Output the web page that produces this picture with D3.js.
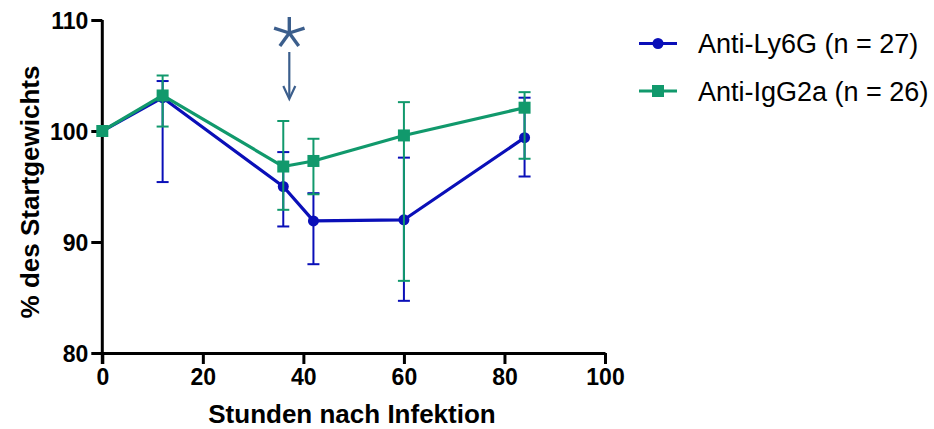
<!DOCTYPE html>
<html>
<head>
<meta charset="utf-8">
<script src="https://cdn.jsdelivr.net/npm/d3@7"></script>
<style>
  html, body { margin: 0; padding: 0; background: #ffffff; }
  svg { display: block; }
  text { font-family: "Liberation Sans", Arial, sans-serif; }
</style>
</head>
<body>
<svg id="chart" width="934" height="429"></svg>
<script>
// Body weight over time after infection (% of starting weight, mean with error bars)
const hours = [0, 12, 36, 42, 60, 84];

const ly6gMean = [100, 103.0, 95.0, 91.9, 92.0, 99.4];
const ly6gLow  = [100, 95.4, 91.4, 88.0, 84.7, 95.9];
const ly6gHigh = [100, 104.5, 98.1, 94.4, 97.6, 103.0];

const iggMean = [100, 103.2, 96.8, 97.3, 99.6, 102.1];
const iggLow  = [100, 100.4, 92.9, 94.3, 86.5, 97.5];
const iggHigh = [100, 105.0, 100.9, 99.3, 102.6, 103.5];

const seriesNames = ["Anti-Ly6G (n = 27)", "Anti-IgG2a (n = 26)"];
const xTicks = [0, 20, 40, 60, 80, 100];
const yTicks = [80, 90, 100, 110];
const markHour = 37.2;   // time of treatment, marked with * and arrow

const blue = "#0a0fb8";
const green = "#11996c";
const noteColor = "#3b5e8c";

const svg = d3.select("#chart");

const x = d3.scaleLinear().domain([0, 100]).range([102.3, 605]);
const y = d3.scaleLinear().domain([80, 110]).range([353, 20]);

// Axes
const xAxis = svg.append("g")
  .attr("transform", `translate(0,${y(80)})`)
  .call(d3.axisBottom(x).tickValues(xTicks).tickSize(11).tickPadding(3).tickSizeOuter(0));
const yAxis = svg.append("g")
  .attr("transform", `translate(${x(0)},0)`)
  .call(d3.axisLeft(y).tickValues(yTicks).tickSize(11).tickPadding(3).tickSizeOuter(0));

[xAxis, yAxis].forEach(g => {
  g.select(".domain").attr("stroke", "#000").attr("stroke-width", 3);
  g.selectAll(".tick line").attr("stroke", "#000").attr("stroke-width", 3);
  g.selectAll(".tick text")
    .attr("fill", "#000")
    .attr("font-size", 23)
    .attr("font-weight", "bold")
    .attr("font-family", "'Liberation Sans', Arial, sans-serif");
});
// y axis line runs to the bottom of the x-axis ticks
yAxis.select(".domain").attr("d", `M0,${y(110)}V${y(80) + 11}`);
yAxis.selectAll(".tick text").attr("dy", "0.36em");
xAxis.selectAll(".tick text").attr("dy", "0.78em");

// Axis titles
svg.append("text")
  .attr("x", 352).attr("y", 423)
  .attr("text-anchor", "middle")
  .attr("font-size", 26).attr("font-weight", "bold")
  .text("Stunden nach Infektion");
svg.append("text")
  .attr("transform", "translate(39,192) rotate(-90)")
  .attr("text-anchor", "middle")
  .attr("font-size", 26).attr("font-weight", "bold")
  .text("% des Startgewichts");

const line = d3.line().x(d => x(d.h)).y(d => y(d.m));

function drawSeries(mean, low, high, color, marker) {
  const data = hours.map((h, i) => ({ h, m: mean[i], lo: low[i], hi: high[i] }));
  const g = svg.append("g");
  const eb = g.append("g").attr("stroke", color).attr("stroke-width", 2);
  data.filter(d => d.hi !== d.lo).forEach(d => {
    eb.append("line").attr("x1", x(d.h)).attr("x2", x(d.h)).attr("y1", y(d.lo)).attr("y2", y(d.hi));
    eb.append("line").attr("x1", x(d.h) - 6).attr("x2", x(d.h) + 6).attr("y1", y(d.lo)).attr("y2", y(d.lo));
    eb.append("line").attr("x1", x(d.h) - 6).attr("x2", x(d.h) + 6).attr("y1", y(d.hi)).attr("y2", y(d.hi));
  });
  g.append("path").datum(data)
    .attr("d", line)
    .attr("fill", "none").attr("stroke", color).attr("stroke-width", 3.2)
    .attr("stroke-linejoin", "round");
  const pts = g.append("g").attr("fill", color);
  data.forEach(d => marker(pts, x(d.h), y(d.m)));
}

const circle = (g, cx, cy) => g.append("circle").attr("cx", cx).attr("cy", cy).attr("r", 5.5);
const square = (g, cx, cy) => g.append("rect").attr("x", cx - 6).attr("y", cy - 6).attr("width", 12).attr("height", 12);

drawSeries(ly6gMean, ly6gLow, ly6gHigh, blue, circle);
drawSeries(iggMean, iggLow, iggHigh, green, square);

// Treatment marker: asterisk with arrow
const ax = x(markHour);
const note = svg.append("g").attr("stroke", noteColor).attr("fill", "none");
const acy = 33, ar = 16;
for (let k = 0; k < 5; k++) {
  const a = (-90 + 72 * k) * Math.PI / 180;
  note.append("line")
    .attr("x1", ax).attr("y1", acy)
    .attr("x2", ax + ar * Math.cos(a)).attr("y2", acy + ar * Math.sin(a))
    .attr("stroke-width", 3.4).attr("stroke-linecap", "butt");
}
note.append("line").attr("x1", ax).attr("x2", ax).attr("y1", 52).attr("y2", 98)
  .attr("stroke-width", 2.2);
note.append("path").attr("d", `M${ax - 6},${86}L${ax},${99}L${ax + 6},${86}`)
  .attr("stroke-width", 2.2).attr("stroke-linejoin", "miter");

// Legend
const legend = svg.append("g");
[[blue, circle, 43.5], [green, square, 91]].forEach(([color, marker, ly], i) => {
  legend.append("line").attr("x1", 639).attr("x2", 677).attr("y1", ly).attr("y2", ly)
    .attr("stroke", color).attr("stroke-width", 3.2);
  marker(legend.append("g").attr("fill", color), 658, ly);
  legend.append("text")
    .attr("x", 698).attr("y", ly + 9.5)
    .attr("font-size", 27)
    .attr("fill", "#000")
    .text(seriesNames[i]);
});
</script>
</body>
</html>
